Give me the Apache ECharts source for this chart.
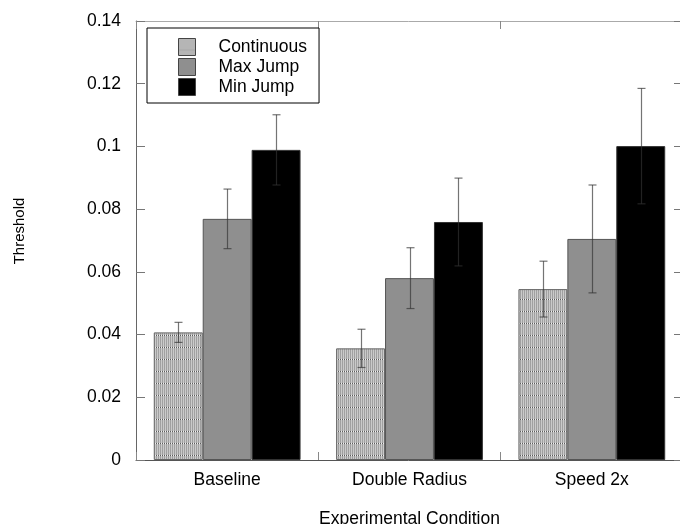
<!DOCTYPE html>
<html>
<head>
<meta charset="utf-8">
<script src="https://cdn.jsdelivr.net/npm/echarts@6/dist/echarts.min.js"></script>
<style>html,body{margin:0;padding:0;background:#fff}#c{width:680px;height:524px}</style>
</head>
<body>
<div id="c"></div>
<script>
const categories = ['Baseline', 'Double Radius', 'Speed 2x'];
const seriesNames = ['Continuous', 'Max Jump', 'Min Jump'];
const continuous = [0.0407, 0.0356, 0.0545];
const continuousErr = [0.0032, 0.0061, 0.0089];
const maxJump = [0.0769, 0.0580, 0.0705];
const maxJumpErr = [0.0095, 0.0097, 0.0172];
const minJump = [0.0989, 0.0759, 0.1001];
const minJumpErr = [0.0112, 0.0140, 0.0184];
const yTicks = [0, 0.02, 0.04, 0.06, 0.08, 0.1, 0.12, 0.14];

const FONT = '"Liberation Sans", Arial, sans-serif';
const GAP = 0.195;

// hatched pattern for "Continuous"
const pc = document.createElement('canvas');
pc.width = 4; pc.height = 12;
const px = pc.getContext('2d');
px.fillStyle = '#cacaca'; px.fillRect(0, 0, 4, 12);
px.fillStyle = '#a0a0a0'; px.fillRect(0, 0, 1, 12); px.fillRect(2, 0, 1, 12);
px.fillStyle = '#5e5e5e'; px.fillRect(0, 11, 1, 1); px.fillRect(2, 11, 1, 1);
px.fillStyle = '#f0f0f0'; px.fillRect(1, 11, 1, 1); px.fillRect(3, 11, 1, 1);
const patternColor = { image: pc, repeat: 'repeat' };

function errSeries(values, errs, idx) {
  return {
    type: 'custom',
    z: 10,
    silent: true,
    data: values.map((v, i) => [i, v, errs[i]]),
    encode: { x: 0, y: 1 },
    renderItem: function (params, api) {
      const i = api.value(0), v = api.value(1), e = api.value(2);
      const catW = api.size([1, 0])[0];
      const bw = catW * (1 - GAP) / 3;
      const c = api.coord([i, v]);
      const x = Math.round(c[0] + (idx - 1) * bw) + 0.5;
      const yt = api.coord([i, v + e])[1];
      const yb = api.coord([i, v - e])[1];
      const st = { stroke: 'rgba(50,50,50,0.68)', lineWidth: 1.2 };
      const cap = 4;
      return {
        type: 'group',
        children: [
          { type: 'line', shape: { x1: x, y1: yt, x2: x, y2: yb }, style: st },
          { type: 'line', shape: { x1: x - cap, y1: yt, x2: x + cap, y2: yt }, style: st },
          { type: 'line', shape: { x1: x - cap, y1: yb, x2: x + cap, y2: yb }, style: st }
        ]
      };
    }
  };
}

const chart = echarts.init(document.getElementById('c'), null, { renderer: 'canvas' });
const baseY = {
  type: 'value', min: 0, max: 0.14, interval: 0.02,
  axisTick: { show: true, inside: true, length: 9, lineStyle: { color: '#777' } },
  splitLine: { show: false }
};
chart.setOption({
  animation: false,
  backgroundColor: '#fff',
  grid: { left: 136, right: -3, top: 21, bottom: 64, containLabel: false, outerBoundsMode: 'none' },
  legend: {
    orient: 'vertical',
    left: 147, top: 28,
    data: seriesNames,
    icon: 'rect',
    backgroundColor: '#fff',
    borderColor: '#000', borderWidth: 1,
    padding: [10, 12, 7, 31],
    itemWidth: 17, itemHeight: 17, itemGap: 2,
    textStyle: { fontFamily: FONT, fontSize: 17.5, color: '#000', padding: [0, 0, 0, 18], lineHeight: 18 },
    itemStyle: { borderColor: '#444', borderWidth: 1 }
  },
  xAxis: [{
    type: 'category', data: categories, position: 'bottom',
    axisLine: { onZero: false, lineStyle: { color: '#555', width: 1 } },
    axisTick: { show: true, inside: true, length: 8, lineStyle: { color: '#888' } },
    axisLabel: { fontFamily: FONT, fontSize: 17.5, color: '#000', margin: 11 },
    name: 'Experimental Condition', nameLocation: 'middle', nameGap: 50,
    nameTextStyle: { fontFamily: FONT, fontSize: 17.5, color: '#000' }
  }, {
    type: 'category', data: categories, position: 'top',
    axisLine: { onZero: false, lineStyle: { color: '#aaa', width: 1 } },
    axisTick: { show: true, inside: true, length: 8, lineStyle: { color: '#888' } },
    axisLabel: { show: false }
  }],
  yAxis: [Object.assign({}, baseY, {
    position: 'left',
    axisLine: { show: true, onZero: false, lineStyle: { color: '#666', width: 1 } },
    axisLabel: { fontFamily: FONT, fontSize: 17.5, color: '#000', margin: 15 }
  }), Object.assign({}, baseY, {
    position: 'right',
    axisLine: { show: true, onZero: false, lineStyle: { color: '#666', width: 1 } },
    axisLabel: { show: false }
  })],
  graphic: [{
    type: 'text', rotation: Math.PI / 2,
    x: 20, y: 231,
    style: { text: 'Threshold', font: '15px ' + FONT, fill: '#000', align: 'center', verticalAlign: 'middle' }
  }],
  series: [
    {
      name: seriesNames[0], type: 'bar', data: continuous,
      barGap: '0%', barCategoryGap: (GAP * 100) + '%',
      itemStyle: { color: patternColor, borderColor: '#666', borderWidth: 1 }
    },
    {
      name: seriesNames[1], type: 'bar', data: maxJump,
      itemStyle: { color: '#8f8f8f', borderColor: '#555', borderWidth: 1 }
    },
    {
      name: seriesNames[2], type: 'bar', data: minJump,
      itemStyle: { color: '#000', borderColor: '#333', borderWidth: 1 }
    },
    errSeries(continuous, continuousErr, 0),
    errSeries(maxJump, maxJumpErr, 1),
    errSeries(minJump, minJumpErr, 2)
  ]
});
</script>
</body>
</html>
